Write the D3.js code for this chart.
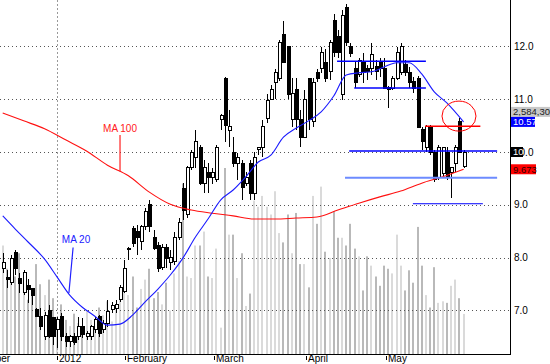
<!DOCTYPE html>
<html>
<head>
<meta charset="utf-8">
<script src="https://cdn.jsdelivr.net/npm/d3@7"></script>
<style>
  html, body { margin: 0; padding: 0; background: #fff; }
  svg { display: block; font-family: Arial, "Liberation Sans", sans-serif; }
</style>
</head>
<body>
<div id="chart"></div>
<script>
// daily bars, Dec 2011 .. mid May 2012
const open = [
  7.80, 7.62, 7.52, 8.09, 7.60, 7.33, 7.48, 7.41, 7.01, 6.89,
  6.50, 6.99, 6.86, 6.63, 6.88, 6.50, 6.42, 6.50, 6.50, 6.69,
  6.50, 6.50, 6.63, 6.88, 6.63, 6.76, 7.01, 7.03, 7.20, 7.35,
  8.16, 8.55, 8.50, 8.30, 8.58, 9.00, 8.39, 8.22, 7.82, 8.20,
  7.90, 7.92, 8.39, 9.30, 8.81, 9.70, 9.90, 10.09, 9.41, 9.62,
  9.51, 9.47, 10.61, 11.40, 10.40, 10.00, 9.79, 9.79, 9.41, 9.79,
  9.22, 10.05, 10.09, 10.64, 11.00, 11.31, 11.40, 12.22, 11.99, 10.61,
  11.19, 10.61, 10.28, 11.40, 10.57, 11.50, 11.59, 11.70, 11.52, 12.50,
  12.18, 11.08, 12.73, 11.99, 11.59, 11.46, 11.70, 11.59, 11.59, 11.61,
  11.70, 11.59, 11.23, 11.21, 11.40, 11.50, 11.65, 11.50, 11.33, 11.40,
  10.42, 10.09, 10.47, 10.00, 9.51, 9.60, 10.00, 9.62, 9.79, 10.57, 9.72
];
const high = [
  8.09, 7.77, 8.05, 8.14, 7.71, 7.77, 7.60, 7.43, 7.05, 7.05,
  6.97, 7.10, 6.88, 6.88, 6.95, 6.57, 6.54, 6.57, 6.88, 6.86,
  6.61, 6.73, 6.88, 6.92, 6.82, 7.20, 7.16, 7.20, 7.48, 7.95,
  8.20, 8.59, 8.62, 8.62, 8.94, 9.09, 8.52, 8.30, 8.25, 8.25,
  8.14, 8.49, 8.75, 9.41, 9.74, 10.04, 10.42, 10.13, 9.85, 9.79,
  9.70, 10.13, 10.72, 11.42, 10.80, 10.28, 9.98, 9.85, 9.62, 9.85,
  10.00, 10.10, 10.61, 11.10, 11.26, 11.58, 12.12, 12.48, 11.99, 11.40,
  11.40, 10.80, 11.17, 11.40, 11.40, 11.58, 11.98, 11.96, 12.12, 12.62,
  12.31, 12.69, 12.80, 12.06, 11.70, 11.78, 11.87, 11.65, 12.06, 11.74,
  11.78, 11.78, 11.25, 11.44, 11.99, 12.06, 11.74, 11.61, 11.42, 11.44,
  10.47, 10.51, 10.51, 10.04, 10.13, 10.09, 10.09, 9.70, 10.13, 10.64, 10.04
];
const low = [
  7.71, 7.43, 7.48, 7.67, 7.33, 7.29, 7.14, 7.10, 6.88, 6.63,
  6.44, 6.48, 6.35, 6.29, 6.42, 6.31, 6.31, 6.35, 6.44, 6.48,
  6.44, 6.44, 6.57, 6.50, 6.57, 6.69, 6.95, 6.95, 7.16, 7.33,
  7.95, 8.20, 8.05, 8.14, 8.52, 8.48, 8.14, 7.73, 7.77, 7.80,
  7.77, 7.86, 8.33, 8.71, 8.75, 9.66, 9.70, 9.38, 9.22, 9.22,
  9.40, 9.43, 10.42, 10.19, 10.09, 9.72, 9.47, 9.09, 9.35, 9.09,
  9.09, 9.95, 9.90, 10.55, 10.98, 11.00, 11.35, 11.70, 11.00, 10.47,
  10.42, 10.09, 10.28, 10.42, 10.47, 11.33, 11.50, 11.33, 11.36, 11.80,
  11.78, 10.98, 12.00, 11.80, 11.21, 11.42, 11.31, 11.36, 11.46, 11.36,
  11.42, 11.19, 10.83, 11.17, 11.36, 11.46, 11.44, 11.21, 11.12, 10.45,
  10.04, 10.00, 9.94, 9.43, 9.47, 9.51, 9.47, 9.13, 9.62, 9.98, 9.70
];
const close = [
  7.90, 7.58, 7.99, 7.80, 7.50, 7.71, 7.39, 7.29, 6.89, 6.69,
  6.91, 6.50, 6.50, 6.82, 6.50, 6.42, 6.50, 6.40, 6.69, 6.54,
  6.57, 6.69, 6.82, 6.57, 6.76, 6.97, 7.10, 7.12, 7.43, 7.80,
  8.18, 8.27, 8.39, 8.58, 8.88, 8.58, 8.18, 7.80, 8.20, 7.99,
  8.01, 8.39, 8.67, 8.90, 9.70, 10.00, 10.19, 9.41, 9.70, 9.51,
  9.62, 10.09, 10.70, 10.51, 10.49, 9.79, 9.90, 9.32, 9.52, 9.22,
  9.90, 10.08, 10.49, 10.98, 11.19, 11.50, 12.08, 11.70, 11.08, 11.10,
  10.61, 10.28, 11.00, 10.61, 11.31, 11.40, 11.89, 11.40, 12.08, 11.89,
  11.89, 12.59, 12.08, 11.87, 11.31, 11.74, 11.50, 11.52, 11.84, 11.52,
  11.59, 11.21, 11.19, 11.40, 11.89, 11.99, 11.50, 11.31, 11.21, 10.47,
  10.19, 10.49, 10.00, 9.47, 10.09, 10.09, 9.51, 9.70, 10.09, 10.00, 10.00
];
// volume, millions of shares
const volume = [
  7.0, 5.5, 4.8, 5.0, 6.5, 4.2, 3.5, 4.0, 5.8, 4.5,
  3.8, 4.8, 3.6, 2.4, 3.2, 2.2, 1.8, 2.6, 2.0, 1.6,
  2.8, 2.2, 1.9, 3.0, 2.5, 3.4, 2.1, 2.9, 3.6, 4.5,
  3.8, 5.0, 3.0, 4.2, 4.8, 5.5, 3.6, 4.0, 3.2, 4.6,
  2.8, 5.2, 6.0, 11.0, 5.0, 4.9, 7.0, 7.0, 7.9, 5.0,
  4.9, 6.8, 1.7, 12.0, 7.7, 7.7, 4.9, 6.5, 3.1, 3.9,
  9.9, 9.5, 10.2, 9.5, 9.0, 10.5, 7.8, 7.2, 9.0, 6.5,
  9.1, 5.8, 5.8, 4.3, 10.2, 8.4, 10.8, 6.6, 6.2, 9.2,
  7.5, 7.5, 7.0, 8.4, 6.8, 6.3, 4.1, 6.3, 5.7, 5.0,
  4.4, 5.7, 5.5, 5.2, 7.7, 5.7, 4.1, 5.4, 4.6, 8.2,
  5.7, 3.8, 3.0, 5.6, 3.3, 3.4, 3.3, 4.4, 4.8, 3.6, 2.5843
];

// moving averages (bar index -> value)
const ma20Idx = [0, 3, 6, 10, 13, 16, 19, 22, 25, 28, 31, 34, 37, 40, 43, 46, 49, 52, 55, 58,
                 61, 64, 67, 70, 73, 76, 79, 82, 85, 88, 91, 94, 97, 100, 103, 106, 110];
const ma20Val = [8.79, 8.54, 8.30, 7.97, 7.63, 7.29, 7.06, 6.89, 6.72, 6.74, 6.91, 7.16, 7.40, 7.67,
                 7.99, 8.39, 8.73, 9.09, 9.28, 9.53, 9.81, 9.94, 10.28, 10.45, 10.59, 10.76, 11.06,
                 11.46, 11.50, 11.52, 11.61, 11.69, 11.69, 11.48, 11.14, 10.93, 10.57];
const ma100Idx = [0, 5, 10, 15, 20, 25, 30, 35, 40, 45, 50, 55, 60, 65, 70, 75, 80, 85, 90, 95, 100, 105, 110];
const ma100Val = [10.74, 10.59, 10.44, 10.23, 10.02, 9.75, 9.55, 9.24, 9.01, 8.90, 8.84, 8.79,
                  8.73, 8.73, 8.75, 8.77, 8.90, 9.03, 9.15, 9.26, 9.41, 9.53, 9.673];

// x axis
const tickIdx = [-9.7, 13, 29.2, 50.4, 72.4, 91.5];
const tickLabels = ["December", "2012", "February", "March", "April", "May"];
const priceTicks = [7, 8, 9, 10, 11, 12];

// drawn-in levels: [price, from bar, to bar]
const blueLevels = [[11.72, 79.8, 101], [11.21, 83.9, 101], [10.02, 82.7, 118]];
const lightLevels = [[9.51, 81.7, 118]];
const lowLevels = [[9.02, 97.9, 114.6]];
const redLevels = [[10.49, 100.8, 114]];

const W = 550, H = 364;
const plot = { left: 0, right: 510, top: 0, bottom: 354 };

const svg = d3.select("#chart").append("svg")
  .attr("width", W).attr("height", H);

const x = d3.scaleLinear().domain([0, 110]).range([2.7, 463.6]);
const y = d3.scaleLinear().domain([6.174, 12.879]).range([plot.bottom, plot.top]);
const yVol = d3.scaleLinear().domain([0, 22.84]).range([plot.bottom, plot.top]);

const bars = close.map((c, i) => ({
  i, o: open[i], h: high[i], l: low[i], c, v: volume[i]
}));

const g = svg.append("g");

// volume
g.append("g").selectAll("rect").data(bars).enter().append("rect")
  .attr("x", d => Math.round(x(d.i)) - 1)
  .attr("width", 2)
  .attr("y", d => yVol(d.v))
  .attr("height", d => plot.bottom - yVol(d.v))
  .attr("fill", d => d.c >= d.o ? "#dadada" : "#b9b9b9");

// grid
g.append("g").selectAll("line").data(priceTicks).enter().append("line")
  .attr("x1", plot.left).attr("x2", plot.right)
  .attr("y1", d => Math.round(y(d)) + 0.5).attr("y2", d => Math.round(y(d)) + 0.5)
  .attr("stroke", "#555").attr("stroke-dasharray", "1,3");
g.append("line")
  .attr("x1", Math.round(x(tickIdx[1])) + 0.5).attr("x2", Math.round(x(tickIdx[1])) + 0.5)
  .attr("y1", plot.top).attr("y2", plot.bottom)
  .attr("stroke", "#999").attr("stroke-dasharray", "2,2");

// candles
const cg = g.append("g").attr("shape-rendering", "crispEdges");
cg.selectAll("line").data(bars).enter().append("line")
  .attr("x1", d => Math.round(x(d.i)) + 0.5).attr("x2", d => Math.round(x(d.i)) + 0.5)
  .attr("y1", d => y(d.h)).attr("y2", d => y(d.l))
  .attr("stroke", "#000");
cg.selectAll("rect").data(bars).enter().append("rect")
  .attr("x", d => Math.round(x(d.i)) - 1)
  .attr("width", 3)
  .attr("y", d => y(Math.max(d.o, d.c)))
  .attr("height", d => Math.max(1, Math.abs(y(d.o) - y(d.c))))
  .attr("fill", d => d.c >= d.o ? "#fff" : "#000")
  .attr("stroke", "#000");

// moving averages
const maLine = d3.line().x(d => x(d[0])).y(d => y(d[1])).curve(d3.curveMonotoneX);
g.append("path").datum(ma100Idx.map((k, j) => [k, ma100Val[j]]))
  .attr("d", maLine).attr("fill", "none").attr("stroke", "#ff1010").attr("stroke-width", 1.1);
g.append("path").datum(ma20Idx.map((k, j) => [k, ma20Val[j]]))
  .attr("d", maLine).attr("fill", "none").attr("stroke", "#1a1aff").attr("stroke-width", 1.1);

// drawn levels
function levels(data, color, width) {
  g.append("g").selectAll("line").data(data).enter().append("line")
    .attr("x1", d => x(d[1])).attr("x2", d => x(d[2]))
    .attr("y1", d => y(d[0])).attr("y2", d => y(d[0]))
    .attr("stroke", color).attr("stroke-width", width);
}
levels(blueLevels, "#0000ff", 1.5);
levels(lightLevels, "#6d8bff", 2);
levels(lowLevels, "#0000ff", 1);
levels(redLevels, "#ff0000", 1.5);

// circle
g.append("ellipse")
  .attr("cx", x(108.9)).attr("cy", y(10.68))
  .attr("rx", 17).attr("ry", 15)
  .attr("fill", "none").attr("stroke", "#ff0000").attr("stroke-width", 1);

// MA labels
g.append("text").attr("x", x(28)).attr("y", y(10.38))
  .attr("text-anchor", "middle").attr("font-size", 10).attr("fill", "#ff2020").text("MA 100");
g.append("line").attr("x1", x(28)).attr("x2", x(28))
  .attr("y1", y(10.32)).attr("y2", y(9.63))
  .attr("stroke", "#ff2020").attr("stroke-width", 1.2);
g.append("text").attr("x", x(17.5)).attr("y", y(8.27))
  .attr("text-anchor", "middle").attr("font-size", 10).attr("fill", "#2020ff").text("MA 20");
g.append("line").attr("x1", x(16.8)).attr("x2", x(15.8))
  .attr("y1", y(8.19)).attr("y2", y(7.33))
  .attr("stroke", "#2020ff").attr("stroke-width", 1.2);

// frame
svg.append("line").attr("x1", plot.right + 0.5).attr("x2", plot.right + 0.5)
  .attr("y1", 0).attr("y2", plot.bottom + 0.5).attr("stroke", "#000");
svg.append("line").attr("x1", 0).attr("x2", plot.right + 1)
  .attr("y1", plot.bottom + 0.5).attr("y2", plot.bottom + 0.5).attr("stroke", "#000");

// price labels
svg.append("g").selectAll("text").data(priceTicks).enter().append("text")
  .attr("x", plot.right + 4).attr("y", d => y(d)).attr("dy", "0.35em")
  .attr("font-size", 10).attr("fill", "#000").text(d => d.toFixed(1));

// x axis ticks
const xa = svg.append("g");
xa.selectAll("line").data(tickIdx).enter().append("line")
  .attr("x1", d => Math.round(x(d)) + 0.5).attr("x2", d => Math.round(x(d)) + 0.5)
  .attr("y1", plot.bottom + 2).attr("y2", plot.bottom + 6).attr("stroke", "#000");
xa.selectAll("text").data(tickIdx).enter().append("text")
  .attr("x", d => Math.round(x(d)) + 2).attr("y", H - 2)
  .attr("font-size", 10).attr("fill", "#000").text((d, i) => tickLabels[i]);

// last-value tags
const last = bars[bars.length - 1];
function tag(val, text, bg, fg, w, dy) {
  const cy = y(val) + (dy || 0);
  svg.append("rect").attr("x", plot.right + 1).attr("y", cy - 5)
    .attr("width", w).attr("height", 10).attr("fill", bg);
  svg.append("text").attr("x", plot.right + 3).attr("y", cy).attr("dy", "0.35em")
    .attr("font-size", 9.5).attr("fill", fg).text(text);
}
tag(ma20Val[ma20Val.length - 1], d3.format(",")(Math.round(last.v * 1e6)), "#c8c8c8", "#222", 40, -10);
tag(ma20Val[ma20Val.length - 1], ma20Val[ma20Val.length - 1].toFixed(2), "#0000ff", "#fff", 24);
tag(last.c, String(last.c), "#000", "#fff", 12);
tag(ma100Val[ma100Val.length - 1], ma100Val[ma100Val.length - 1].toFixed(3), "#ff0000", "#300000", 25);
</script>
</body>
</html>
